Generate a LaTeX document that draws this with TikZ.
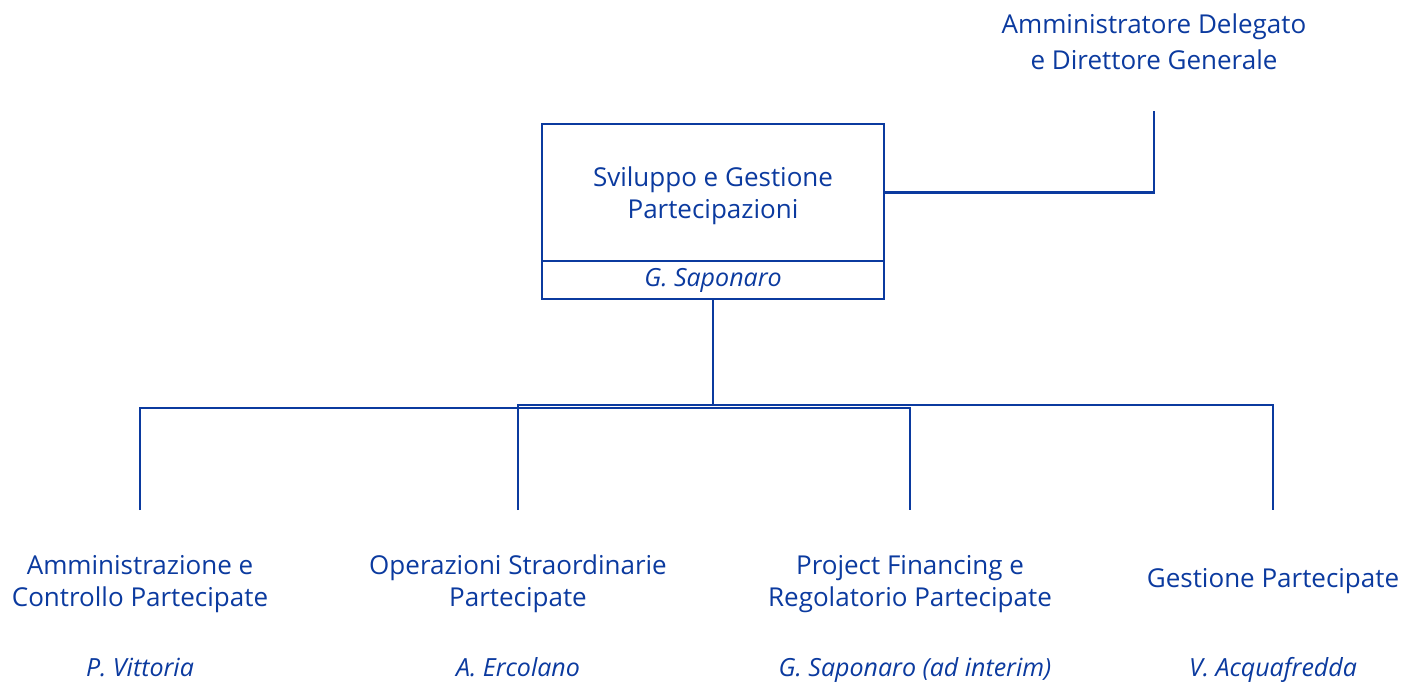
\documentclass[tikz,border=0pt]{standalone}
\usepackage{fontspec}
\setmainfont{Open Sans}
\usetikzlibrary{positioning}
\definecolor{orgblue}{HTML}{0B3A9F}

\begin{document}
\begin{tikzpicture}[x=1pt,y=-1pt,line width=2.5pt,draw=orgblue,text=orgblue,
                    font=\fontsize{26}{32}\selectfont]
  \tikzstyle{unit}=[align=center]
  \tikzstyle{head}=[draw,outer sep=0pt,minimum width=342pt,align=center]
  \tikzstyle{person}=[font=\fontsize{25}{30}\selectfont\itshape]
  \useasboundingbox (0,0) rectangle (1402,685);

  \node[unit,font=\fontsize{26}{36}\selectfont] (AD) at (1154,42) {Amministratore Delegato\\e Direttore Generale};
  \node[head,minimum height=137pt]          (SGP) at (713,192.5) {\raisebox{-3pt}[\height][\depth]{\parbox{300pt}{\centering Sviluppo e Gestione\\Partecipazioni}}};
  \node[head,minimum height=38pt,person]    (SGPname) [below=0pt of SGP] {G. Saponaro};

  \node[unit]   (ACP) at (140,584)  {Amministrazione e\\Controllo Partecipate};
  \node[unit]   (OSP) at (518,584)  {Operazioni Straordinarie\\Partecipate};
  \node[unit]   (PFR) at (910,584)  {Project Financing e\\Regolatorio Partecipate};
  \node[unit]   (GP)  at (1273,581) {Gestione Partecipate};

  \node[person] (ACPname) at (140,667)  {P. Vittoria};
  \node[person] (OSPname) at (518,667)  {A. Ercolano};
  \node[person] (PFRname) at (915,670)  {G. Saponaro (ad interim)};
  \node[person] (GPname)  at (1273,670) {V. Acquafredda};

  \coordinate (ADfoot) at (1154,111);
  \coordinate (t1) at (140,510);  \coordinate (b1) at (140,408);
  \coordinate (t2) at (518,510);  \coordinate (b2) at (518,405);
  \coordinate (t3) at (910,510);  \coordinate (b3) at (910,408);
  \coordinate (t4) at (1273,510); \coordinate (b4) at (1273,405);

  \draw (ADfoot) |- (SGP.east);
  \draw (SGPname.south) -- (SGPname.south |- b4);
  \draw (t1) -- (b1) -- (b3) -- (t3);
  \draw (t2) -- (b2) -- (b4) -- (t4);
\end{tikzpicture}
\end{document}
